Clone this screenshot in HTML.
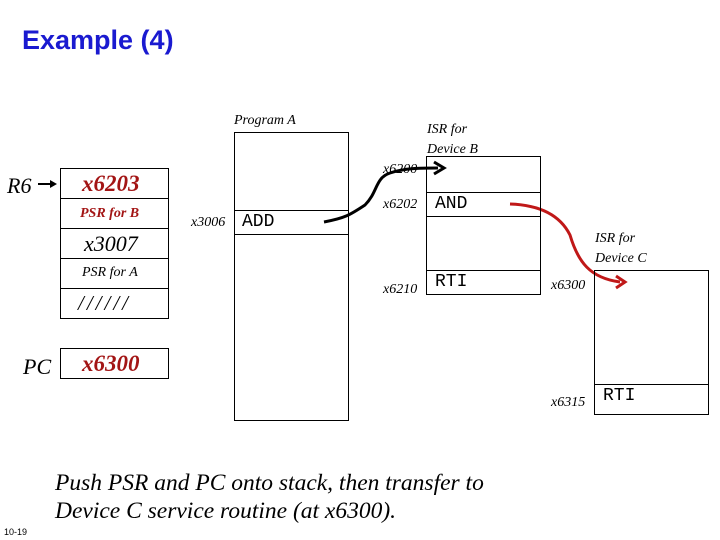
<!DOCTYPE html>
<html><head><style>
body{margin:0;width:720px;height:540px;background:#fff;overflow:hidden;position:relative;font-family:"Liberation Serif",serif;}
.t{position:absolute;white-space:nowrap;line-height:1;}
.i{font-style:italic;}
.b{position:absolute;border:1px solid #000;box-sizing:border-box;}
.h{position:absolute;height:0;border-top:1px solid #000;}
.red{color:#a31515;font-weight:bold;font-style:italic;}
.mono{font-family:"Liberation Mono",monospace;}
</style></head><body>
<div class="t" style="left:22px;top:27px;font-family:'Liberation Sans',sans-serif;font-weight:bold;font-size:27px;color:#1a1ad0;">Example (4)</div>

<!-- stack -->
<div class="b" style="left:60px;top:168px;width:109px;height:151px;"></div>
<div class="h" style="left:60px;top:198px;width:109px;"></div>
<div class="h" style="left:60px;top:228px;width:109px;"></div>
<div class="h" style="left:60px;top:258px;width:109px;"></div>
<div class="h" style="left:60px;top:288px;width:109px;"></div>
<div class="t i" style="left:7px;top:175px;font-size:22px;">R6</div>
<svg style="position:absolute;left:0;top:0" width="720" height="540">
<line x1="38" y1="184" x2="52" y2="184" stroke="#000" stroke-width="2"/>
<polygon points="57,184 50,180 50,188" fill="#000"/>
<path d="M324,222 C345,218 350,215 365,205 C378,192 375,178 390,173 C405,168 420,168 438,168" fill="none" stroke="#000" stroke-width="3"/>
<polyline points="434,162 444,168 434,174" fill="none" stroke="#000" stroke-width="3"/>
<path d="M510,204 C540,205 560,215 570,235 C578,262 590,278 620,282" fill="none" stroke="#c01818" stroke-width="3"/>
<polyline points="616,276 625,282 616,288" fill="none" stroke="#c01818" stroke-width="3"/>
</svg>
<div class="t red" style="left:82px;top:172px;font-size:23px;">x6203</div>
<div class="t red" style="left:80px;top:207px;font-size:14px;">PSR for B</div>
<div class="t i" style="left:84px;top:233px;font-size:22px;">x3007</div>
<div class="t i" style="left:82px;top:266px;font-size:14px;">PSR for A</div>
<div class="t i" style="left:78px;top:293px;font-size:21px;letter-spacing:3px;">//////</div>

<div class="b" style="left:60px;top:348px;width:109px;height:31px;"></div>
<div class="t i" style="left:23px;top:356px;font-size:22px;">PC</div>
<div class="t red" style="left:82px;top:352px;font-size:23px;">x6300</div>

<!-- Program A -->
<div class="t i" style="left:234px;top:114px;font-size:14px;">Program A</div>
<div class="b" style="left:234px;top:132px;width:115px;height:289px;"></div>
<div class="h" style="left:234px;top:210px;width:115px;"></div>
<div class="h" style="left:234px;top:234px;width:115px;"></div>
<div class="t i" style="left:191px;top:216px;font-size:14px;">x3006</div>
<div class="t mono" style="left:242px;top:213px;font-size:18px;">ADD</div>

<!-- ISR B -->
<div class="t i" style="left:427px;top:120px;font-size:14px;line-height:20px;">ISR for<br>Device B</div>
<div class="b" style="left:426px;top:156px;width:115px;height:139px;"></div>
<div class="h" style="left:426px;top:192px;width:115px;"></div>
<div class="h" style="left:426px;top:216px;width:115px;"></div>
<div class="h" style="left:426px;top:270px;width:115px;"></div>
<div class="t i" style="left:383px;top:163px;font-size:14px;">x6200</div>
<div class="t i" style="left:383px;top:198px;font-size:14px;">x6202</div>
<div class="t mono" style="left:435px;top:195px;font-size:18px;">AND</div>
<div class="t i" style="left:383px;top:283px;font-size:14px;">x6210</div>
<div class="t mono" style="left:435px;top:273px;font-size:18px;">RTI</div>

<!-- ISR C -->
<div class="t i" style="left:595px;top:229px;font-size:14px;line-height:20px;">ISR for<br>Device C</div>
<div class="b" style="left:594px;top:270px;width:115px;height:145px;"></div>
<div class="h" style="left:594px;top:384px;width:115px;"></div>
<div class="t i" style="left:551px;top:279px;font-size:14px;">x6300</div>
<div class="t i" style="left:551px;top:396px;font-size:14px;">x6315</div>
<div class="t mono" style="left:603px;top:387px;font-size:18px;">RTI</div>

<div class="t i" style="left:55px;top:469px;font-size:23.5px;line-height:28px;">Push PSR and PC onto stack, then transfer to<br>Device C service routine (at x6300).</div>
<div class="t" style="left:4px;top:528px;font-family:'Liberation Sans',sans-serif;font-size:9px;">10-19</div>
</body></html>
